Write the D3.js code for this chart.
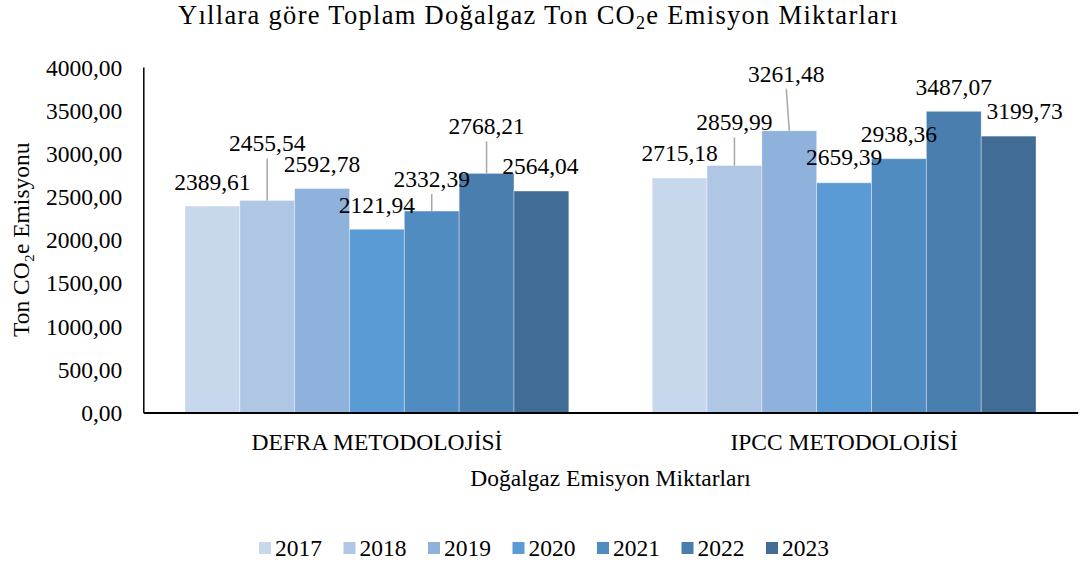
<!DOCTYPE html>
<html>
<head>
<meta charset="utf-8">
<script src="https://cdn.jsdelivr.net/npm/d3@7"></script>
<style>
  html, body { margin: 0; padding: 0; background: #fff; }
  svg { display: block; font-family: "Liberation Serif", "Times New Roman", serif; }
</style>
</head>
<body>
<svg id="chart" width="1091" height="562"></svg>
<script>
// ---- data ----
const categories = ["DEFRA METODOLOJİSİ", "IPCC METODOLOJİSİ"];
const years = ["2017", "2018", "2019", "2020", "2021", "2022", "2023"];
const defraValues = [2389.61, 2455.54, 2592.78, 2121.94, 2332.39, 2768.21, 2564.04];
const ipccValues  = [2715.18, 2859.99, 3261.48, 2659.39, 2938.36, 3487.07, 3199.73];
const yTickValues = [0, 500, 1000, 1500, 2000, 2500, 3000, 3500, 4000];

// ---- styles / layout (kept apart from data) ----
const colors = ["#C7D7EC", "#AFC7E5", "#8EB2DC", "#5B9BD5", "#508CC0", "#4A7EAE", "#416C96"];
// label offsets (px) of label centre relative to bar top centre, per category, per year
const defraLabelOffsets = [[0, -24], [0, -57], [0, -25], [0, -24], [0, -32], [0, -47], [-1, -25]];
const ipccLabelOffsets  = [[0, -25], [0, -43], [-3, -57], [0, -26], [0, -25], [0, -24], [16, -25]];

const seriesByCategory = [defraValues, ipccValues];
const offsetsByCategory = [defraLabelOffsets, ipccLabelOffsets];

const svg = d3.select("#chart");
const plotLeft = 143.3, plotRight = 1077.7, plotTop = 67, plotBottom = 412.5;
const fs = 23.5;
const serif = "Liberation Serif, Times New Roman, serif";

const x0 = d3.scaleBand().domain(categories).range([plotLeft, plotRight]).paddingInner(0).paddingOuter(0);
const x1 = d3.scaleBand().domain(years).range([0, x0.bandwidth()]).paddingInner(0).paddingOuter(0.76);
const y = d3.scaleLinear().domain([0, 4000]).range([plotBottom, plotTop]);

const fmt = v => d3.format(".2f")(v).replace(".", ",");

// title
const title = svg.append("text")
  .attr("x", 538.5).attr("y", 24)
  .attr("text-anchor", "middle")
  .attr("font-size", 26.5)
  .attr("letter-spacing", 1.3)
  .attr("fill", "#000");
title.append("tspan").text("Yıllara göre Toplam Doğalgaz Ton CO");
title.append("tspan").attr("font-size", 18).attr("dy", 5).text("2");
title.append("tspan").attr("dy", -5).text("e Emisyon Miktarları");

// bars
const groups = svg.append("g").selectAll("g")
  .data(categories.map((c, ci) => ({ c, ci })))
  .join("g")
  .attr("transform", d => `translate(${x0(d.c)},0)`);

groups.selectAll("rect")
  .data(d => years.map((yr, i) => ({ yr, i, v: seriesByCategory[d.ci][i] })))
  .join("rect")
  .attr("x", d => x1(d.yr))
  .attr("y", d => y(d.v))
  .attr("width", x1.bandwidth())
  .attr("height", d => y(0) - y(d.v))
  .attr("fill", d => colors[d.i])
  .attr("stroke", "#ffffff")
  .attr("stroke-opacity", 0.45)
  .attr("stroke-width", 0.8);

// leader lines & labels
groups.each(function (g) {
  const sel = d3.select(this);
  const items = years.map((yr, i) => {
    const v = seriesByCategory[g.ci][i];
    const off = offsetsByCategory[g.ci][i];
    const bx = x1(yr) + x1.bandwidth() / 2;
    const by = y(v);
    return { yr, i, v, bx, by, lx: bx + off[0], ly: by + off[1] };
  });
  sel.selectAll("line.leader")
    .data(items.filter(d => d.by - d.ly > 30))
    .join("line")
    .attr("class", "leader")
    .attr("x1", d => d.lx).attr("y1", d => d.ly + 15)
    .attr("x2", d => d.bx).attr("y2", d => d.by)
    .attr("stroke", "#A6A6A6").attr("stroke-width", 1.5);
  sel.selectAll("text.lbl")
    .data(items)
    .join("text")
    .attr("class", "lbl")
    .attr("x", d => d.lx).attr("y", d => d.ly + 8)
    .attr("text-anchor", "middle")
    .attr("font-family", serif)
    .attr("font-size", fs)
    .attr("fill", "#000")
    .text(d => fmt(d.v));
});

// y axis
const yAxis = svg.append("g")
  .attr("transform", `translate(${plotLeft},0)`)
  .call(d3.axisLeft(y).tickValues(yTickValues).tickSize(0).tickPadding(21).tickFormat(fmt));
yAxis.attr("font-family", serif);
yAxis.select(".domain").attr("stroke", "#000").attr("stroke-width", 1.5);
yAxis.selectAll("text")
  .attr("font-family", serif)
  .attr("font-size", fs).attr("fill", "#000").attr("dy", "0.34em");

// x axis
const xAxis = svg.append("g")
  .attr("transform", `translate(0,${plotBottom})`)
  .call(d3.axisBottom(x0).tickSize(0).tickPadding(21));
xAxis.attr("font-family", serif);
xAxis.select(".domain").attr("stroke", "#000").attr("stroke-width", 1.8);
xAxis.selectAll("text")
  .attr("font-family", serif)
  .attr("font-size", fs).attr("fill", "#000");

// axis titles
svg.append("text")
  .attr("x", (plotLeft + plotRight) / 2).attr("y", 486)
  .attr("text-anchor", "middle").attr("font-size", fs).attr("fill", "#000")
  .text("Doğalgaz Emisyon Miktarları");

svg.append("text")
  .attr("transform", `translate(29,${(plotTop + plotBottom) / 2}) rotate(-90)`)
  .attr("text-anchor", "middle").attr("font-size", fs).attr("fill", "#000")
  .text("Ton CO₂e Emisyonu");

// legend
const legend = svg.append("g").selectAll("g")
  .data(years)
  .join("g")
  .attr("transform", (d, i) => `translate(${259 + i * 84.5},542)`);
legend.append("rect")
  .attr("width", 12).attr("height", 12)
  .attr("fill", (d, i) => colors[i]);
legend.append("text")
  .attr("x", 16).attr("y", 14)
  .attr("font-size", fs).attr("fill", "#000")
  .text(d => d);
</script>
</body>
</html>
